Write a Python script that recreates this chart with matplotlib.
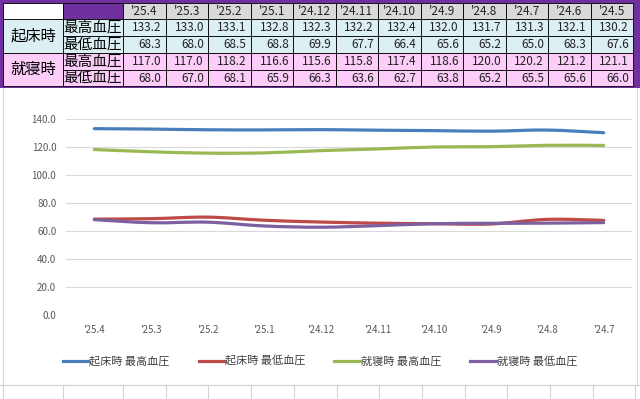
import numpy as np
import matplotlib
matplotlib.use("Agg")
import matplotlib.pyplot as plt
from matplotlib.path import Path
from matplotlib.patches import PathPatch, Rectangle
from matplotlib.lines import Line2D

plt.rcParams['font.family'] = ['Noto Sans CJK JP', 'DejaVu Sans']

# table data (as shown in the sheet)
months = ["'25.4", "'25.3", "'25.2", "'25.1", "'24.12", "'24.11", "'24.10",
          "'24.9", "'24.8", "'24.7", "'24.6", "'24.5"]
wake_high = [133.2, 133.0, 133.1, 132.8, 132.3, 132.2, 132.4, 132.0, 131.7, 131.3, 132.1, 130.2]
wake_low = [68.3, 68.0, 68.5, 68.8, 69.9, 67.7, 66.4, 65.6, 65.2, 65.0, 68.3, 67.6]
bed_high = [117.0, 117.0, 118.2, 116.6, 115.6, 115.8, 117.4, 118.6, 120.0, 120.2, 121.2, 121.1]
bed_low = [68.0, 67.0, 68.1, 65.9, 66.3, 63.6, 62.7, 63.8, 65.2, 65.5, 65.6, 66.0]

group_labels = ["起床時", "就寝時"]
kind_labels = ["最高血圧", "最低血圧"]
series_names = ["起床時 最高血圧", "起床時 最低血圧", "就寝時 最高血圧", "就寝時 最低血圧"]
colors = ["#4a7ebb", "#be4b48", "#98b954", "#7d60a0"]

# the chart picks its range two columns in, but keeps the first ten labels
chart_labels = months[:10]
chart_series = [wake_high[2:], wake_low[2:], bed_high[2:], bed_low[2:]]

fig = plt.figure(figsize=(6.4, 3.99), dpi=100)

# background layer in pixel coords
bg = fig.add_axes([0, 0, 1, 1])
bg.set_xlim(0, 640)
bg.set_ylim(399, 0)
bg.axis("off")

# sheet grid at the bottom
col_x = [3, 63, 123] + [123 + 42.7 * (i + 1) for i in range(12)]
for xv in col_x:
    bg.plot([xv, xv], [385, 399], color="#d4d4d4", lw=0.8)
bg.plot([0, 640], [385, 385], color="#d4d4d4", lw=0.8)

# chart area
bg.add_patch(Rectangle((3, 87), 634, 298, facecolor="white", edgecolor="#d9d9d9", lw=0.8))

# table
purple = "#7030a0"
x0, w = 123, 42.5
row_y = [3, 19, 36, 53, 70, 86]
blue_bg, pink_bg = "#dcf0f4", "#fbcdf8"
bg.add_patch(Rectangle((0, 0), 640, 88, facecolor=purple, edgecolor="none"))
bg.add_patch(Rectangle((3, 3), 60, 16, facecolor="white", edgecolor="black", lw=0.6))
bg.add_patch(Rectangle((63, 3), 60, 16, facecolor=purple, edgecolor="black", lw=0.6))
for j, m in enumerate(months):
    bg.add_patch(Rectangle((x0 + j * w, 3), w, 16, facecolor="#d9d9d9", edgecolor="black", lw=0.6))
    bg.text(x0 + j * w + w / 2, 11.5, m, ha="center", va="center", fontsize=8.5, color="#222222")

rows = [wake_high, wake_low, bed_high, bed_low]
for i, vals in enumerate(rows):
    y = row_y[i + 1]
    h = row_y[i + 2] - y
    fc = blue_bg if i < 2 else pink_bg
    bg.add_patch(Rectangle((63, y), 60, h, facecolor=fc, edgecolor="black", lw=0.6))
    bg.text(93, y + h / 2, kind_labels[i % 2], ha="center", va="center", fontsize=10.5)
    for j, v in enumerate(vals):
        bg.add_patch(Rectangle((x0 + j * w, y), w, h, facecolor=fc, edgecolor="black", lw=0.6))
        bg.text(x0 + j * w + w - 4, y + h / 2, f"{v:.1f}", ha="right", va="center", fontsize=8.5, color="#222222")
for g in range(2):
    y = row_y[1 + 2 * g]
    h = row_y[3 + 2 * g] - y
    fc = blue_bg if g == 0 else pink_bg
    bg.add_patch(Rectangle((3, y), 60, h, facecolor=fc, edgecolor="black", lw=0.6))
    bg.text(33, y + h / 2, group_labels[g], ha="center", va="center", fontsize=11)

# plot
ax = fig.add_axes([66 / 640, 1 - 315 / 399, 566 / 640, 196 / 399])
ax.set_facecolor("white")
n = len(chart_labels)
xs = np.arange(n)
ax.set_xlim(-0.5, n - 0.5)
ax.set_ylim(0, 140)
ax.set_yticks(np.arange(0, 141, 20))
ax.set_yticklabels([f"{v:.1f}" for v in np.arange(0, 141, 20)])
ax.set_xticks(xs)
ax.set_xticklabels(chart_labels)
ax.tick_params(length=0, labelsize=7, colors="#595959", pad=7)
ax.grid(axis="y", color="#d9d9d9", lw=0.8)
ax.set_axisbelow(True)
for s in ax.spines.values():
    s.set_visible(False)


def smooth_path(x, y):
    pts = np.column_stack([x, y])
    verts = [pts[0]]
    codes = [Path.MOVETO]
    for i in range(len(pts) - 1):
        p0 = pts[i - 1] if i > 0 else pts[i]
        p1, p2 = pts[i], pts[i + 1]
        p3 = pts[i + 2] if i + 2 < len(pts) else pts[i + 1]
        verts += [p1 + (p2 - p0) / 6, p2 - (p3 - p1) / 6, p2]
        codes += [Path.CURVE4] * 3
    return Path(verts, codes)


handles = []
for vals, c, name in zip(chart_series, colors, series_names):
    ax.add_patch(PathPatch(smooth_path(xs, np.array(vals)), fill=False, edgecolor=c,
                           lw=2.3, capstyle="round", joinstyle="round"))
    handles.append(Line2D([], [], color=c, lw=2.3, label=name))

fig.legend(handles=handles, loc="center", bbox_to_anchor=(0.5, 1 - 361 / 399), ncol=4,
           frameon=False, fontsize=8, handlelength=2.3, handletextpad=0.1,
           columnspacing=2.6, labelcolor="#404040")

fig.savefig("out.png", dpi=100)
